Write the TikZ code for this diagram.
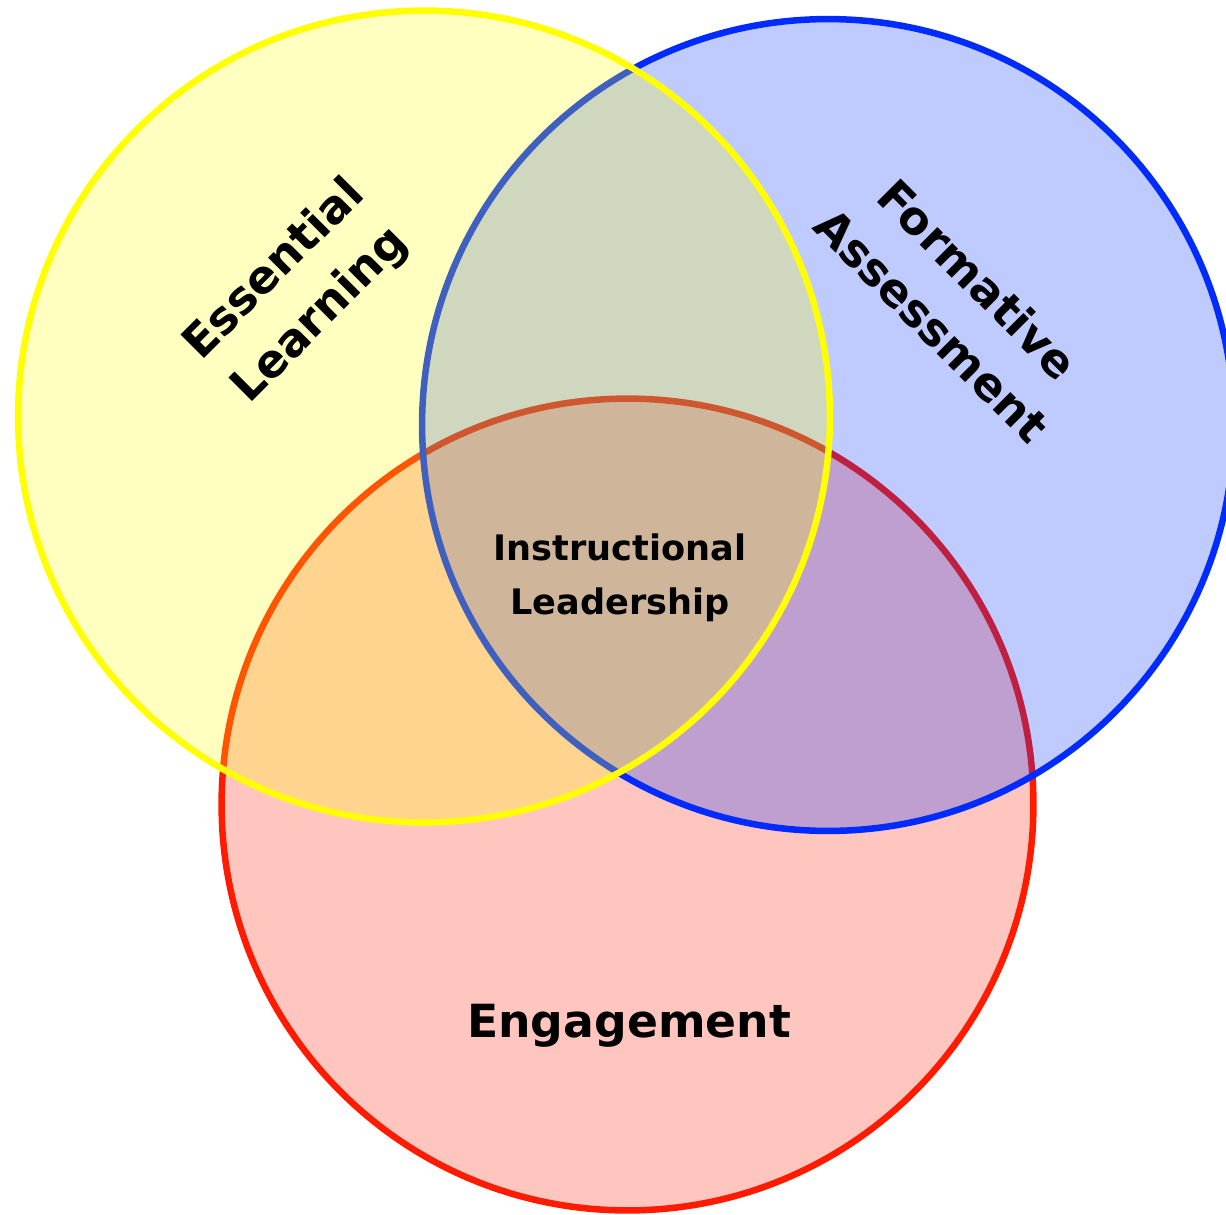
\documentclass[tikz,border=0pt]{standalone}
\usepackage{fontspec}
\setmainfont{DejaVu Sans}
\usetikzlibrary{positioning}
\definecolor{essyellow}{RGB}{255,255,0}
\definecolor{assblue}{RGB}{0,43,255}
\definecolor{engred}{RGB}{255,27,0}
\tikzstyle{ring} = [circle, draw, line width=0.13cm, minimum size=16.24cm, inner sep=0pt, fill opacity=0.25]
\tikzstyle{biglabel} = [font=\bfseries\fontsize{26}{37}\selectfont, align=center, inner sep=0pt]
\tikzstyle{midlabel} = [font=\bfseries\fontsize{20}{31}\selectfont, align=center, inner sep=0pt]

\begin{document}
\begin{tikzpicture}[x=0.02cm, y=-0.02cm]
        \useasboundingbox (0,0) rectangle (1226,1214);
        % Circulos
        \node [ring, draw=engred, fill=engred] (eng) at (627.5,804.5) {};
        \node [ring, draw=assblue, fill=assblue] (ass) at (828,425) {};
        \node [ring, draw=essyellow, fill=essyellow] (ess) at (424,416.5) {};
        
        % Etiquetas
        \node [biglabel, rotate=45] (esslabel) at (298,293) {Essential\\Learning};
        \node [biglabel, rotate=-45] (asslabel) at (955,302) {Formative\\Assessment};
        \node [midlabel] (lead) at (620,578) {Instructional\\Leadership};
        \node [biglabel, anchor=base] (englabel) at (629,1037) {Engagement};
    \end{tikzpicture}
\end{document}
